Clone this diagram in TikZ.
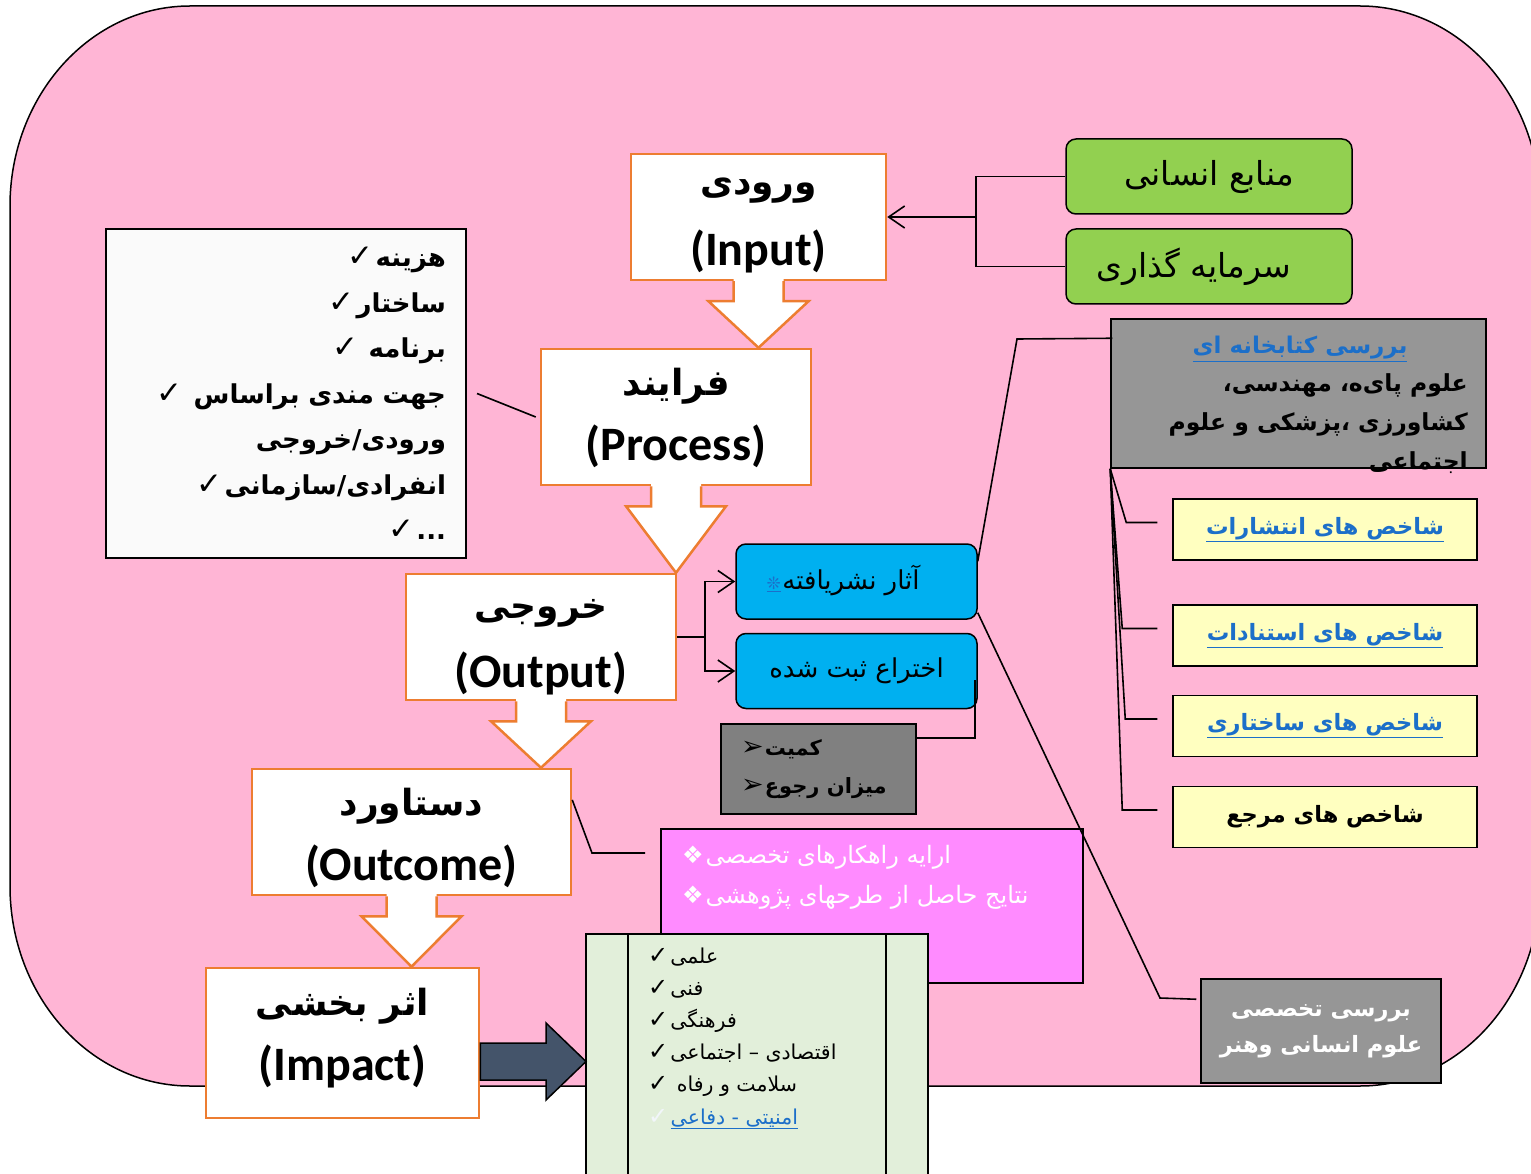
\documentclass[tikz,border=0pt]{standalone}
\usepackage{fontspec}
\usetikzlibrary{arrows.meta,calc}
\setmainfont{Carlito}
\newfontfamily\fa[Script=Arabic]{DejaVu Sans}
\TeXXeTstate=1
\newcommand\fatx[1]{\beginR #1\endR}
\newcommand\ck{\kern2pt{\fontsize{24}{32}\selectfont ✓}}
\newcommand\ckb{\kern2pt{\fontsize{31}{45.5}\selectfont ✓}}
\definecolor{pinkbg}{HTML}{FFB5D5}
\definecolor{orangeb}{HTML}{ED7D31}
\definecolor{greenf}{HTML}{92D050}
\definecolor{bluef}{HTML}{00B0F0}
\definecolor{grayf}{HTML}{969696}
\definecolor{dgrayf}{HTML}{808080}
\definecolor{yellowf}{HTML}{FFFFC0}
\definecolor{magf}{HTML}{FF8BFF}
\definecolor{lgreenf}{HTML}{E2EFDA}
\definecolor{darkarr}{HTML}{44546A}
\definecolor{linkb}{HTML}{1C6FC9}
\definecolor{listf}{HTML}{FAFAFA}
\definecolor{palechk}{HTML}{F2F6FA}
\newcommand\blockarr[2]{%
 \path[fill=white] let \p1=(#1.south), \p2=(#2.north) in (\x1-25,\y1+3) -- (\x1-25,\y1-20) -- (\x1-50,\y1-20) -- (\x1,\y2) -- (\x1+50,\y1-20) -- (\x1+25,\y1-20) -- (\x1+25,\y1+3) -- cycle;
 \draw[orangeb,line width=2.5pt,line join=miter] let \p1=(#1.south), \p2=(#2.north) in (\x1-25,\y1) -- (\x1-25,\y1-20) -- (\x1-50,\y1-20) -- (\x1,\y2) -- (\x1+50,\y1-20) -- (\x1+25,\y1-20) -- (\x1+25,\y1);}
\begin{document}
\begin{tikzpicture}[x=1pt,y=-1pt,
 every node/.style={inner sep=0pt},
 mainbox/.style={draw=orangeb,line width=2.5pt,fill=white},
 artitle/.style={font=\fa\bfseries\fontsize{36}{40}\selectfont},
 latitle/.style={font=\bfseries\fontsize{48}{52}\selectfont},
 greenbox/.style={draw=black,line width=1.5pt,fill=greenf,rounded corners=10pt,minimum width=286pt,minimum height=75pt,font=\fa\fontsize{33}{40}\selectfont},
 ybox/.style={draw=black,line width=1.5pt,fill=yellowf,minimum width=304pt,minimum height=61pt,font=\fa\bfseries\fontsize{22.5}{30}\selectfont},
 bbox/.style={draw=black,line width=1.5pt,fill=bluef,rounded corners=10pt,minimum width=241pt,minimum height=75pt,font=\fa\fontsize{26}{30}\selectfont},
 conn/.style={draw=black,line width=1.6pt},
 openarr/.style={-{Straight Barb[length=16pt,width=22pt]}}]
\useasboundingbox (0,0) rectangle (1531,1174);
% background
\draw[fill=pinkbg,line width=1.5pt] (190,6) -- (1360,6) arc[start angle=90,end angle=0,x radius=180pt,y radius=200pt] -- (1540,886) arc[start angle=0,end angle=-90,x radius=180pt,y radius=200pt] -- (190,1086) arc[start angle=270,end angle=180,x radius=180pt,y radius=200pt] -- (10,206) arc[start angle=180,end angle=90,x radius=180pt,y radius=200pt] -- cycle;
% left list
\node[draw=black,line width=2pt,fill=listf,minimum width=360pt,minimum height=329pt,text width=320pt,align=right,font=\fa\bfseries\fontsize{26}{45.5}\selectfont] (lst) at (286,393.5)
 {\fatx{هزینه\ckb}\\ \fatx{ساختار\ckb}\\ \fatx{برنامه \ckb}\\ \fatx{جهت مندی براساس \ckb}\\ \fatx{ورودی/خروجی}\\ \fatx{انفرادی/سازمانی\ckb}\\ \fatx{...\ckb}};
% main boxes
\node[mainbox,minimum width=255pt,minimum height=126pt] (in) at (758.5,217) {};
\node[artitle] (ina) at (758.5,191) {\fatx{ورودی}};
\node[latitle] (inl) at (758.5,251) {(Input)};
\node[mainbox,minimum width=270pt,minimum height=136pt] (proc) at (676,417) {};
\node[artitle] (proca) at (676,386) {\fatx{فرایند}};
\node[latitle] (procl) at (676,446) {(Process)};
\node[mainbox,minimum width=270pt,minimum height=126pt] (out) at (541,637) {};
\node[artitle] (outa) at (541,613) {\fatx{خروجی}};
\node[latitle] (outl) at (541,673) {(Output)};
\node[mainbox,minimum width=319pt,minimum height=126pt] (outc) at (411.5,832) {};
\node[artitle] (outca) at (411.5,806) {\fatx{دستاورد}};
\node[latitle] (outcl) at (411.5,866) {(Outcome)};
\node[mainbox,minimum width=273pt,minimum height=150pt] (imp) at (342.5,1043) {};
\node[artitle] (impa) at (342.5,1006) {\fatx{اثر بخشی}};
\node[latitle] (impl) at (342.5,1066) {(Impact)};
% green boxes
\node[greenbox] (hr) at (1209,176.5) {\fatx{منابع انسانی}};
\node[greenbox] (inv) at (1209,266.5) {\fatx{\kern30pt سرمایه گذاری}};
% library box
\node[draw=black,line width=1.5pt,fill=grayf,minimum width=375pt,minimum height=149pt] (lib) at (1298.5,393.5) {};
\node[font=\fa\bfseries\fontsize{23}{30}\selectfont,text=linkb] (libt) at (1300,349) {\underline{\fatx{بررسی کتابخانه ای}}};
\node[anchor=north east,align=right,font=\fa\bfseries\fontsize{23.5}{39}\selectfont] (libb) at (1468,373) {\fatx{علوم پای‌ه، مهندسی،}\\\fatx{کشاورزی ،پزشکی و علوم}\\\fatx{اجتماعی}};
% yellow boxes
\node[ybox,text=linkb] (y1) at (1325,529.5) {\underline{\fatx{شاخص های انتشارات}}};
\node[ybox,text=linkb] (y2) at (1325,635.5) {\underline{\fatx{شاخص های استنادات}}};
\node[ybox,text=linkb] (y3) at (1325,726) {\underline{\fatx{شاخص های ساختاری}}};
\node[ybox] (y4) at (1325,817) {\fatx{شاخص های مرجع}};
% blue boxes
\node[bbox] (pub) at (856.5,581.5) {};
\node[font=\fa\fontsize{26}{30}\selectfont] (pubt) at (851,580) {\fatx{آثار نشریافته}};
\node[anchor=east,text=linkb,font=\fa\fontsize{17}{20}\selectfont] (pubs) at ($(pubt.west)+(-1,4)$) {\underline{❊}};
\node[bbox] (pat) at (856.5,671) {\fatx{اختراع ثبت شده}};
\node[draw=black,line width=1.5pt,fill=dgrayf,minimum width=195pt,minimum height=90pt] (kam) at (818.5,769) {};
\node[anchor=west,align=left,font=\fa\bfseries\fontsize{21}{38}\selectfont] (kamt) at (741,769) {\fatx{کمیت\kern1pt{\fontsize{27}{38}\selectfont ➢}}\\\fatx{میزان رجوع\kern1pt{\fontsize{27}{38}\selectfont ➢}}};
% magenta box
\node[draw=black,line width=1.5pt,fill=magf,minimum width=422pt,minimum height=154pt] (mag) at (872,906) {};
\node[anchor=north west,align=left,text=white,font=\fa\fontsize{24}{40}\selectfont] (magt) at (682,845) {\fatx{ارایه راهکارهای تخصصی\kern2pt ❖}\\\fatx{نتایج حاصل از طرحهای پژوهشی\kern2pt ❖}};
% green list
\node[draw=black,line width=2pt,fill=lgreenf,minimum width=342pt,minimum height=256pt] (gl) at (757,1062) {};
\draw[line width=2pt] ($(gl.north west)+(43,0)$) -- ($(gl.south west)+(43,0)$);
\draw[line width=2pt] ($(gl.north east)+(-43,0)$) -- ($(gl.south east)+(-43,0)$);
\node[anchor=north west,align=left,font=\fa\fontsize{20.5}{32}\selectfont] (glt) at (648,948) {\fatx{علمی\ck}\\\fatx{فنی\ck}\\\fatx{فرهنگی\ck}\\\fatx{اقتصادی – اجتماعی\ck}\\\fatx{سلامت و رفاه \ck}};
\node[anchor=base west,text=palechk,font=\fa\fontsize{24}{32}\selectfont] (glck) at (648,1124) {✓};
\node[anchor=base west,text=linkb,font=\fa\fontsize{20.5}{32}\selectfont] (glam) at ($(glck.base east)+(2,0)$) {\underline{\fatx{امنیتی - دفاعی}}};
% bottom gray
\node[draw=black,line width=1.5pt,fill=grayf,minimum width=240pt,minimum height=104pt,align=center,text=white,font=\fa\bfseries\fontsize{22.5}{36}\selectfont] (rev) at (1321,1031) {\fatx{بررسی تخصصی}\\\fatx{علوم انسانی وهنر}};
% connectors
\coordinate (br) at (976,217);
\draw[conn] (hr.west) -| (br) |- (inv.west);
\draw[conn,openarr] (br) -- (in.east);
\coordinate (ob) at (705,637);
\draw[conn] (out.east) -- (ob);
\draw[conn,openarr] (ob) |- (pub.west);
\draw[conn,openarr] (ob) |- (pat.west);
\draw[conn] ($(lst.east)+(10,0)$) -- ($(proc.west)+(-4,0)$);
\coordinate (oc1) at (592,853);
\coordinate (oc2) at (645,853);
\draw[conn] ($(outc.north east)!0.25!(outc.south east)$) -- (oc1) -- (oc2);
\coordinate (pl) at (1017,339);
\draw[conn] ($(pub.north east)+(0,18)$) -- (pl) -- ($(lib.north west)+(2,20)$);
\coordinate (pr) at (1160,998);
\draw[conn] ($(pub.south east)+(0,-7)$) -- (pr) -- ($(rev.north west)+(-4,21)$);
\draw[conn] ($(pat.east)+(-3,9)$) |- ($(kam.north east)+(0,15)$);
\draw[conn] (lib.south west) -- ($(y1.west)+(-46,-7)$) -- ($(y1.west)+(-15,-7)$);
\draw[conn] (lib.south west) -- ($(y2.west)+(-50,-7)$) -- ($(y2.west)+(-15,-7)$);
\draw[conn] (lib.south west) -- ($(y3.west)+(-47,-7)$) -- ($(y3.west)+(-15,-7)$);
\draw[conn] (lib.south west) -- ($(y4.west)+(-50,-7)$) -- ($(y4.west)+(-15,-7)$);
% block arrows
\blockarr{in}{proc}
\blockarr{proc}{out}
\blockarr{out}{outc}
\blockarr{outc}{imp}
% impact arrow
\draw[fill=darkarr,line width=1.5pt,line join=miter] let \p1=(imp.east), \p2=(gl.west), \p3=(0,1043), \p4=(0,1080), \p5=(0,1023), \p6=(0,1100), \p7=(0,1061.5) in
 (\x1,\y3) -- (\x2-39,\y3) -- (\x2-39,\y5) -- (\x2+1,\y7) -- (\x2-39,\y6) -- (\x2-39,\y4) -- (\x1,\y4) -- cycle;
\end{tikzpicture}
\end{document}
